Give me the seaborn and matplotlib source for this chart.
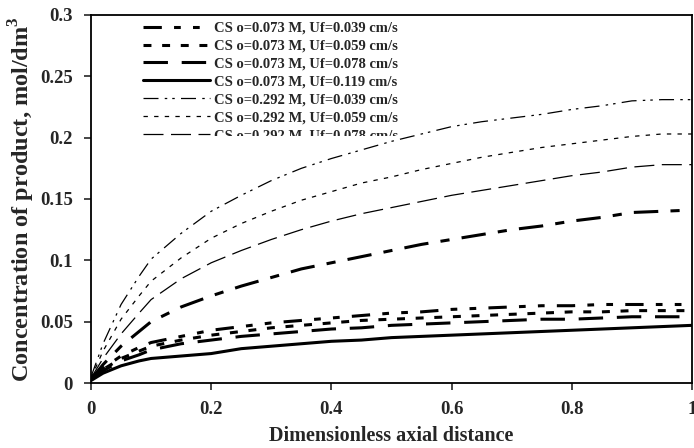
import numpy as np
import pandas as pd
import seaborn as sns
import matplotlib.pyplot as plt
from matplotlib.ticker import FuncFormatter, MultipleLocator
from matplotlib.transforms import Bbox, TransformedBbox

# axial positions (dimensionless)
x_pos = [0, 0.02, 0.05, 0.08, 0.1, 0.15, 0.2, 0.25, 0.3, 0.35, 0.4, 0.45,
         0.5, 0.55, 0.6, 0.65, 0.7, 0.75, 0.8, 0.85, 0.9, 0.95, 1.0]

# CSo = 0.073 M
c073_u039 = [0.003, 0.012, 0.022, 0.029, 0.033, 0.038, 0.043, 0.046, 0.049, 0.051, 0.053, 0.055,
             0.057, 0.058, 0.060, 0.061, 0.062, 0.063, 0.063, 0.064, 0.064, 0.064, 0.064]
c073_u059 = [0.003, 0.011, 0.020, 0.026, 0.030, 0.035, 0.039, 0.042, 0.045, 0.047, 0.049, 0.051,
             0.052, 0.053, 0.054, 0.055, 0.056, 0.057, 0.058, 0.058, 0.059, 0.059, 0.059]
c073_u078 = [0.003, 0.010, 0.018, 0.023, 0.027, 0.032, 0.035, 0.038, 0.040, 0.042, 0.044, 0.045,
             0.047, 0.048, 0.049, 0.050, 0.051, 0.052, 0.052, 0.053, 0.054, 0.054, 0.054]
c073_u119 = [0.002, 0.008, 0.014, 0.018, 0.020, 0.022, 0.024, 0.028, 0.030, 0.032, 0.034, 0.035,
             0.037, 0.038, 0.039, 0.040, 0.041, 0.042, 0.043, 0.044, 0.045, 0.046, 0.047]
# CSo = 0.292 M
c292_u039 = [0.005, 0.032, 0.064, 0.087, 0.101, 0.122, 0.140, 0.153, 0.165, 0.175, 0.183, 0.190,
             0.197, 0.203, 0.209, 0.213, 0.216, 0.219, 0.223, 0.226, 0.230, 0.231, 0.231]
c292_u059 = [0.004, 0.026, 0.052, 0.071, 0.083, 0.102, 0.118, 0.130, 0.140, 0.149, 0.156, 0.163,
             0.168, 0.174, 0.179, 0.184, 0.188, 0.192, 0.195, 0.198, 0.201, 0.203, 0.203]
c292_u078 = [0.004, 0.020, 0.040, 0.057, 0.068, 0.085, 0.098, 0.108, 0.117, 0.125, 0.132, 0.138,
             0.143, 0.148, 0.153, 0.157, 0.161, 0.165, 0.169, 0.172, 0.176, 0.178, 0.178]
c292_u119 = [0.003, 0.015, 0.030, 0.042, 0.050, 0.062, 0.071, 0.079, 0.086, 0.093, 0.098, 0.103,
             0.108, 0.113, 0.117, 0.121, 0.125, 0.128, 0.132, 0.135, 0.139, 0.140, 0.141]

labels = ["CS o=0.073 M, Uf=0.039 cm/s", "CS o=0.073 M, Uf=0.059 cm/s",
          "CS o=0.073 M, Uf=0.078 cm/s", "CS o=0.073 M, Uf=0.119 cm/s",
          "CS o=0.292 M, Uf=0.039 cm/s", "CS o=0.292 M, Uf=0.059 cm/s",
          "CS o=0.292 M, Uf=0.078 cm/s", "CS o=0.292 M, Uf=0.119 cm/s"]
series = [c073_u039, c073_u059, c073_u078, c073_u119,
          c292_u039, c292_u059, c292_u078, c292_u119]

# line styles (width, dash pattern)
styles = [
    (2.2, (0, (6, 4, 2.2, 4, 2.2, 4))),
    (2.2, (0, (2.6, 3.5))),
    (2.2, (0, (8, 4.5))),
    (2.2, "-"),
    (0.9, (0, (12, 5, 2, 4, 2, 5))),
    (0.9, (0, (3.5, 5))),
    (0.9, (0, (16, 6))),
    (2.2, (0, (8, 4, 3, 4))),
]

sns.set_style("ticks")
plt.rcParams["font.family"] = ["Liberation Serif", "DejaVu Serif"]
plt.rcParams["font.weight"] = "bold"
plt.rcParams["mathtext.fontset"] = "custom"
plt.rcParams["mathtext.rm"] = "Liberation Serif:bold"
plt.rcParams["mathtext.bf"] = "Liberation Serif:bold"

fig, ax = plt.subplots(figsize=(6.94, 4.48), dpi=100)
fig.subplots_adjust(left=91 / 694, right=692 / 694, top=1 - 15 / 448, bottom=1 - 383 / 448)

for lab, vals, (lw, ls) in zip(labels, series, styles):
	df = pd.DataFrame({"x": x_pos, "y": vals})
	sns.lineplot(data=df, x="x", y="y", ax=ax, color="black", linewidth=lw,
				 linestyle=ls, label=lab, dash_capstyle="butt")

ax.set_xlim(0, 1)
ax.set_ylim(0, 0.3)
ax.xaxis.set_major_locator(MultipleLocator(0.2))
ax.yaxis.set_major_locator(MultipleLocator(0.05))
fmt = FuncFormatter(lambda v, p: f"{v:g}")
ax.xaxis.set_major_formatter(fmt)
ax.yaxis.set_major_formatter(fmt)
ax.tick_params(labelsize=13.5, length=5, width=1.2, direction="out", pad=8)
for t in ax.get_xticklabels() + ax.get_yticklabels():
	t.set_fontweight("bold")

for s in ax.spines.values():
	s.set_visible(True)
	s.set_color("black")
	s.set_linewidth(1.3)

ax.set_xlabel("Dimensionless axial distance", fontsize=14.5, fontweight="bold", labelpad=6)
ax.set_ylabel(r"Concentration of product, mol/dm$^{3}$", fontsize=17.5, fontweight="bold", labelpad=2)

leg = ax.legend(loc="upper left", bbox_to_anchor=(0.075, 1.0), frameon=False,
				fontsize=10.5, handlelength=4.6, handletextpad=0.3, labelspacing=0.32,
				borderaxespad=0.2, borderpad=0.25)
# the legend box in the original is cut off through the seventh entry
clip = TransformedBbox(Bbox([[0, 0.672], [1, 1]]), ax.transAxes)
for a in leg.findobj():
	a.set_clip_box(clip)
	a.set_clip_on(True)

fig.savefig("out.png", dpi=100)
